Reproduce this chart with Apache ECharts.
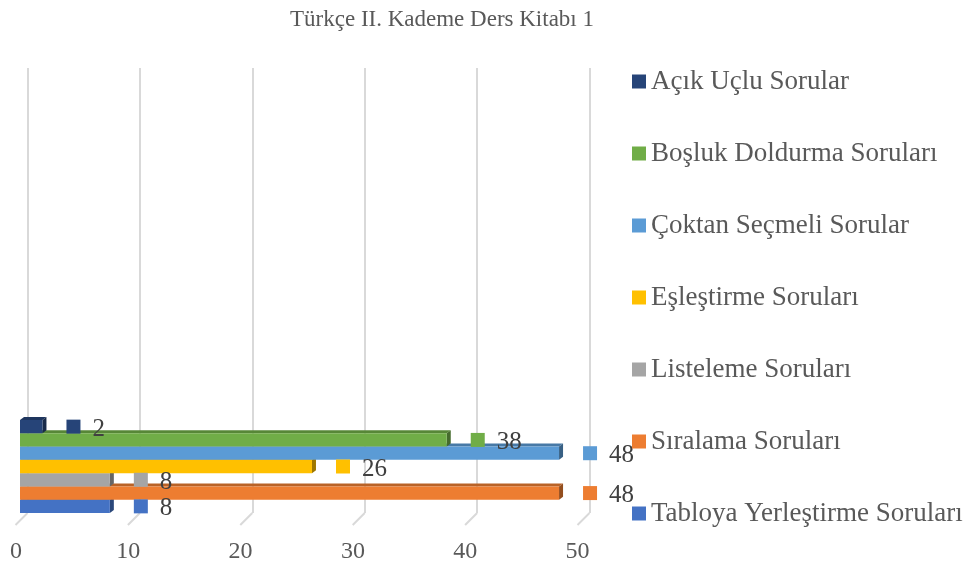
<!DOCTYPE html>
<html><head><meta charset="utf-8">
<script src="https://cdn.jsdelivr.net/npm/echarts@6/dist/echarts.min.js"></script>
<style>html,body{margin:0;padding:0;background:#fff}#c{width:971px;height:570px}</style>
</head><body><div id="c"></div>
<script>
const titleText = 'Türkçe II. Kademe Ders Kitabı 1';
const categories = [''];
const seriesNames = ['Açık Uçlu Sorular','Boşluk Doldurma Soruları','Çoktan Seçmeli Sorular','Eşleştirme Soruları','Listeleme Soruları','Sıralama Soruları','Tabloya Yerleştirme Soruları'];
const seriesValues = [2, 38, 48, 26, 8, 48, 8];
const seriesColors = ['#264478','#70AD47','#5B9BD5','#FFC000','#A5A5A5','#ED7D31','#4472C4'];
const xTicks = [0, 10, 20, 30, 40, 50];

const FONT = 'Liberation Serif, Times New Roman, serif';
function shade(hex, f) {
  const n = parseInt(hex.slice(1), 16);
  const r = Math.round(((n >> 16) & 255) * f), g = Math.round(((n >> 8) & 255) * f), b = Math.round((n & 255) * f);
  return 'rgb(' + r + ',' + g + ',' + b + ')';
}
const N = seriesNames.length;
const DX = 4, DY = 3;

const series = [];
seriesNames.forEach((name, i) => {
  const col = seriesColors[i];
  series.push({
    name: name, type: 'bar', xAxisIndex: 0, yAxisIndex: 0,
    barGap: '0%', barCategoryGap: '0%',
    z: 30 - 2 * i,
    itemStyle: { color: col },
    data: [seriesValues[i]],
    label: { show: false },
    emphasis: { disabled: true },
    animation: false
  });
  series.push({
    name: name, type: 'custom', xAxisIndex: 0, yAxisIndex: 0,
    z: 29 - 2 * i, silent: true,
    data: [[seriesValues[i], 0]],
    renderItem: function (params, api) {
      const lay = api.barLayout({ count: N, barGap: '0%', barCategoryGap: '0%' })[i];
      const p0 = api.coord([0, api.value(1)]);
      const p1 = api.coord([api.value(0), api.value(1)]);
      const x0 = p0[0], x1 = p1[0];
      const yT = p1[1] + lay.offset, yB = yT + lay.width;
      return {
        type: 'group',
        children: [
          { type: 'polygon', shape: { points: [[x0, yT], [x1, yT], [x1 + DX, yT - DY], [x0 + DX, yT - DY]] }, style: { fill: shade(col, 0.78) } },
          { type: 'polygon', shape: { points: [[x1, yT], [x1 + DX, yT - DY], [x1 + DX, yB - DY], [x1, yB]] }, style: { fill: shade(col, 0.62) } }
        ]
      };
    },
    animation: false
  });
});

// data labels (legend key + value), drawn above all bars
series.push({
  type: 'custom', xAxisIndex: 0, yAxisIndex: 0, silent: true, z: 100,
  data: seriesValues.map((v, i) => [v, 0, i]),
  renderItem: function (params, api) {
    const idx = api.value(2);
    const lay = api.barLayout({ count: N, barGap: '0%', barCategoryGap: '0%' })[idx];
    const p = api.coord([api.value(0), api.value(1)]);
    const yC = p[1] + lay.offset + lay.width / 2;
    const xs = p[0] + 24;
    return {
      type: 'group',
      children: [
        { type: 'rect', shape: { x: xs, y: yC - 7, width: 14, height: 14 }, style: { fill: seriesColors[idx] } },
        { type: 'text', x: xs + 26, y: yC + 2.5, style: { text: String(api.value(0)), fill: '#404040', font: '25px ' + FONT, textAlign: 'left', textVerticalAlign: 'middle' } }
      ]
    };
  },
  animation: false
});

// floor ticks on back wall
series.push({
  type: 'custom', xAxisIndex: 1, yAxisIndex: 1, silent: true, z: 1,
  data: xTicks.map(v => [v, 0]),
  renderItem: function (params, api) {
    const p = api.coord([api.value(0), 0]);
    return { type: 'line', shape: { x1: p[0], y1: p[1], x2: p[0] - 12, y2: p[1] + 12 }, style: { stroke: '#d9d9d9', lineWidth: 2 } };
  },
  animation: false
});

const chart = echarts.init(document.getElementById('c'));
chart.setOption({
  animation: false,
  backgroundColor: '#ffffff',
  title: {
    text: titleText, left: 285, top: 3,
    textStyle: { fontSize: 23, fontWeight: 'normal', color: '#595959', fontFamily: FONT }
  },
  legend: {
    orient: 'vertical', left: 632, top: 68, padding: 0, z: 200,
    itemWidth: 14, itemHeight: 14, itemGap: 45, icon: 'rect',
    data: seriesNames,
    textStyle: { fontSize: 27, color: '#595959', fontFamily: FONT }
  },
  grid: [
    { left: 20, right: 389.5, top: 420, bottom: 57, containLabel: false },
    { left: 27.5, right: 381.5, top: 68, bottom: 57, containLabel: false }
  ],
  xAxis: [
    { type: 'value', gridIndex: 0, min: 0, max: 50, interval: 10,
      axisLine: { show: false }, axisTick: { show: false }, splitLine: { show: false },
      axisLabel: { fontSize: 24, color: '#595959', fontFamily: FONT, margin: 27, padding: [0, 8, 0, 0] } },
    { type: 'value', gridIndex: 1, min: 0, max: 50, interval: 10,
      axisLine: { show: false }, axisTick: { show: false }, axisLabel: { show: false },
      splitLine: { show: true, lineStyle: { color: '#d9d9d9', width: 2 } } }
  ],
  yAxis: [
    { type: 'category', gridIndex: 0, data: categories, show: false },
    { type: 'value', gridIndex: 1, min: 0, max: 1, show: false, splitLine: { show: false } }
  ],
  series: series
});
</script></body></html>
